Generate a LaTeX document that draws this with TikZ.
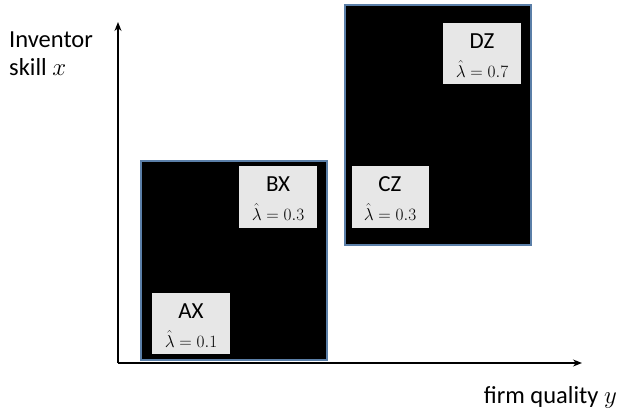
\documentclass[tikz,border=0pt]{standalone}
\usepackage{fontspec}
\setmainfont{Carlito}
\usetikzlibrary{arrows.meta}
\definecolor{edgeblue}{HTML}{5B7FA8}
\definecolor{lightgray}{HTML}{E7E7E7}
\tikzset{
  region/.style={draw=edgeblue, line width=1.2pt, fill=black},
  label box/.style={fill=lightgray, draw=none},
  axis/.style={line width=1.4pt, -{Stealth[length=9pt,width=7pt]}},
  boxtitle/.style={font=\fontsize{23}{26}\selectfont, inner sep=0pt, anchor=center},
  boxlam/.style={font=\fontsize{16.5}{19}\selectfont, inner sep=0pt, anchor=center},
  axlabel/.style={font=\fontsize{24.5}{28}\selectfont, inner sep=0pt, align=left}
}
\begin{document}
\begin{tikzpicture}[x=1pt,y=-1pt]
\useasboundingbox (0,0) rectangle (618,415);
% regions
\draw[region] (141,161) rectangle (327,360);
\draw[region] (345,5) rectangle (531,245);
% label boxes
\fill[label box] (152,293) rectangle (230,354);
\fill[label box] (239,166) rectangle (317,228);
\fill[label box] (352,166) rectangle (429,228);
\fill[label box] (443,23) rectangle (521,84);
\node[boxtitle] (ax) at (191,311) {AX};
\node[boxlam] (axl) at (191,339) {$\hat{\lambda}=0.1$};
\node[boxtitle] (bx) at (278,184) {BX};
\node[boxlam] (bxl) at (278,212) {$\hat{\lambda}=0.3$};
\node[boxtitle] (cz) at (390,184) {CZ};
\node[boxlam] (czl) at (390,212) {$\hat{\lambda}=0.3$};
\node[boxtitle] (dz) at (482,41) {DZ};
\node[boxlam] (dzl) at (482,69) {$\hat{\lambda}=0.7$};
% axes
\coordinate (o) at (118,363);
\coordinate (ytop) at (118,22);
\coordinate (xend) at (582,363);
\draw[axis] (o) -- (ytop);
\draw[axis] (o) -- (xend);
% axis labels
\node[axlabel, anchor=north west] (ylab) at (9,32) {Inventor\\skill $x$};
\node[axlabel, anchor=east] (xlab) at (617,397) {firm quality $y$};
\end{tikzpicture}
\end{document}
